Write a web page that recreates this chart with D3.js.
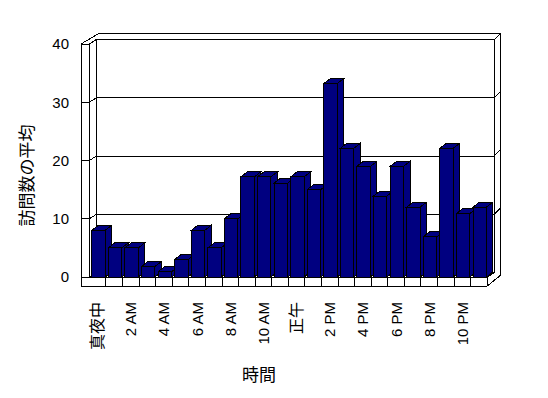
<!DOCTYPE html>
<html lang="ja">
<head>
<meta charset="UTF-8">
<title>訪問数の平均</title>
<script src="https://cdn.jsdelivr.net/npm/d3@7"></script>
<style>
  body { margin: 0; background: #fff; }
  text { fill: #000; }
</style>
</head>
<body>
<div id="chart"></div>
<script>
// data
const hours = ["真夜中", "1 AM", "2 AM", "3 AM", "4 AM", "5 AM", "6 AM", "7 AM", "8 AM", "9 AM", "10 AM", "11 AM",
               "正午", "1 PM", "2 PM", "3 PM", "4 PM", "5 PM", "6 PM", "7 PM", "8 PM", "9 PM", "10 PM", "11 PM"]
const visits = [8, 5, 5, 1.8, 0.9, 3, 8, 5, 10, 17.2, 17.2, 16.1,
                17.2, 15, 33.2, 22.1, 19, 13.9, 19, 12, 6.9, 22.1, 10.9, 12]
const yTicks = [0, 10, 20, 30, 40]

const W = 548, H = 398
const latin = "'Liberation Sans', Arial, sans-serif"
const cjk = "'Noto Sans CJK JP', sans-serif"

const svg = d3.select("#chart").append("svg")
    .attr("width", W).attr("height", H)
    .attr("shape-rendering", "crispEdges")

const x = d3.scaleBand().domain(d3.range(hours.length)).range([89.4, 487.3])
const y = d3.scaleLinear().domain([0, 40]).range([277, 44])

const D = [7, -4.5]      // front -> back wall
const T = [6.5, -6.5]    // wall thickness
const B = [6.5, -5]      // bar depth
const xL = 81, xF0 = x.range()[0], xF1 = x.range()[1]
const yBot = 286
const xB0 = xF0 + D[0], xB1 = xF1 + D[0]
const yTopOut = y(40) + D[1] + T[1]

const line = d3.line()
const frame = svg.append("g").attr("fill", "none").attr("stroke", "#000").attr("stroke-width", 1)

function seg(pts) { frame.append("path").attr("d", line(pts)) }

// outer box
seg([[xL, yBot], [xL, y(40)], [xL + D[0] + T[0] + 5, yTopOut], [xB1 + T[0], yTopOut],
     [xB1 + T[0], y(0) + D[1] + T[1] + 9], [xF1, yBot], [xL, yBot]])
// left wall inner edge and back wall
seg([[xF0, y(0)], [xF0, y(40)], [xL, y(40)]])
seg([[xF0, y(40)], [xB0, y(40) + D[1]], [xB1, y(40) + D[1]], [xB1 + T[0], yTopOut]])
seg([[xB0, y(40) + D[1]], [xB0, y(0) + D[1]], [xB1, y(0) + D[1]], [xB1, y(40) + D[1]]])
// floor
seg([[xL, y(0)], [xF1, y(0)], [xB1, y(0) + D[1]]])
seg([[xF0, y(0)], [xB0, y(0) + D[1]]])
x.domain().forEach(i => seg([[x(i) + x.bandwidth(), y(0)], [x(i) + x.bandwidth(), yBot]]))

// gridlines
yTicks.filter(v => v > 0 && v < 40).forEach(v => {
    seg([[xL, y(v)], [xF0, y(v)], [xB0, y(v) + D[1]], [xB1, y(v) + D[1]], [xB1 + T[0], y(v) + D[1] + T[1]]])
})

// bars
const bw = x.bandwidth() * 0.81
const bars = svg.append("g").attr("fill", "#000080").attr("stroke", "#000")
hours.forEach((h, i) => {
    const x0 = x(i) + 2.3, x1 = x0 + bw, yt = y(visits[i]), y0 = y(0)
    const g = bars.append("g")
    g.append("path").attr("d", line([[x1, yt], [x1 + B[0], yt + B[1]], [x1 + B[0], y0 + B[1]], [x1, y0]]) + "Z")
    g.append("path").attr("d", line([[x0, yt], [x0 + B[0], yt + B[1]], [x1 + B[0], yt + B[1]], [x1, yt]]) + "Z")
    g.append("rect").attr("x", x0).attr("y", yt).attr("width", bw).attr("height", y0 - yt)
})

// y tick labels
svg.append("g").selectAll("text").data(yTicks).join("text")
    .attr("x", 69).attr("y", d => y(d)).attr("dy", "0.36em")
    .attr("text-anchor", "end")
    .style("font-family", latin).style("font-size", "15px")
    .text(d => d)

// x tick labels, every second hour
const isCjk = s => /[\u3000-\u9fff]/.test(s)
svg.append("g").selectAll("text").data(hours.filter((h, i) => i % 2 === 0)).join("text")
    .attr("transform", (d, k) => `translate(${x(k * 2) + x.bandwidth() / 2},302) rotate(-90)`)
    .attr("dy", "0.36em")
    .attr("text-anchor", "end")
    .style("font-family", d => isCjk(d) ? cjk : latin)
    .style("font-size", d => isCjk(d) ? "16px" : "15px")
    .text(d => d)

// axis titles
svg.append("text")
    .attr("transform", "translate(27,175.5) rotate(-90)")
    .attr("dy", "0.36em").attr("text-anchor", "middle")
    .style("font-family", cjk).style("font-size", "17px")
    .text("訪問数の平均")

svg.append("text")
    .attr("x", 259).attr("y", 375).attr("dy", "0.36em")
    .attr("text-anchor", "middle")
    .style("font-family", cjk).style("font-size", "17px")
    .text("時間")
</script>
</body>
</html>
